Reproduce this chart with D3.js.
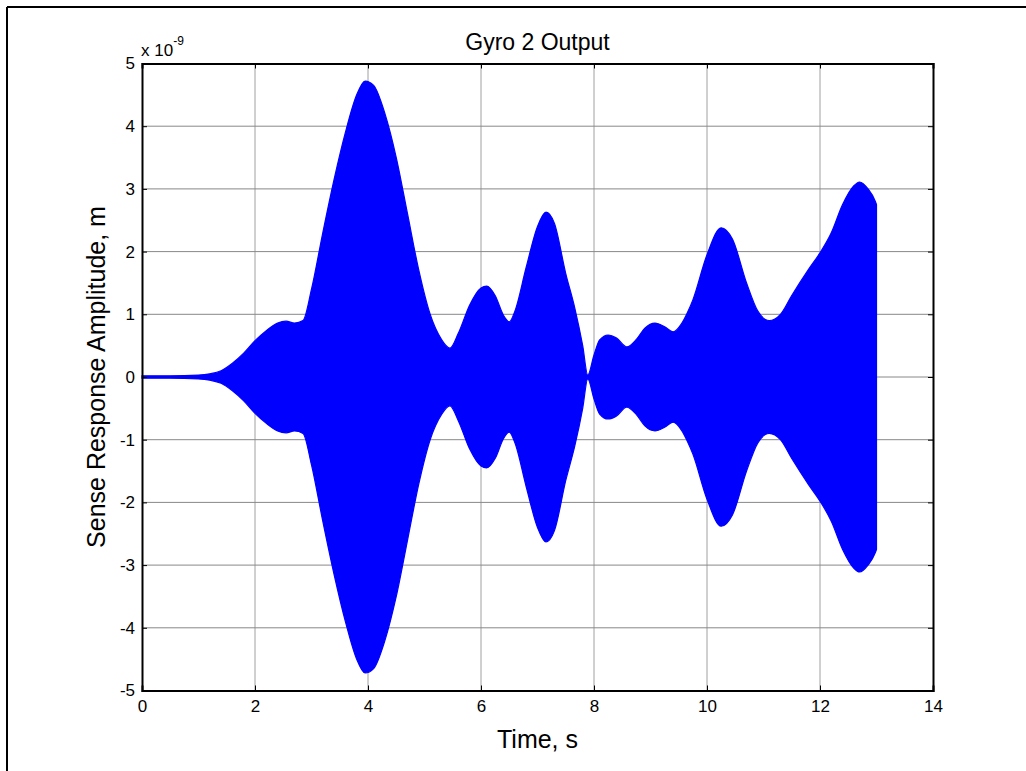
<!DOCTYPE html>
<html>
<head>
<meta charset="utf-8">
<script src="https://cdn.jsdelivr.net/npm/d3@7"></script>
<style>
  body { margin: 0; background: #fff; }
  svg { display: block; font-family: Arial, "Liberation Sans", sans-serif; }
</style>
</head>
<body>
<svg id="chart" width="1026" height="771"></svg>
<script>
// envelope of the sense response (units of 1e-9 m)
var times = [0, 0.5, 1.0, 1.2, 1.4, 1.6, 1.8, 2.0, 2.2, 2.4, 2.55, 2.7, 2.85,
    3.0, 3.2, 3.4, 3.6, 3.8, 3.95, 4.1, 4.3, 4.5, 4.7, 4.9, 5.1, 5.3, 5.45,
    5.6, 5.8, 6.0, 6.1, 6.25, 6.4, 6.5, 6.6, 6.8, 7.0, 7.15, 7.3, 7.5, 7.66,
    7.8, 7.89, 8.0, 8.1, 8.25, 8.4, 8.58, 8.75, 8.9, 9.08, 9.25, 9.4, 9.55,
    9.65, 9.75, 10.0, 10.25, 10.45, 10.7, 10.9, 11.1, 11.3, 11.5, 11.8, 12.0,
    12.2, 12.4, 12.6, 12.7, 12.85, 12.98, 13.0];
var amps = [0.02, 0.02, 0.03, 0.05, 0.1, 0.22, 0.38, 0.58, 0.74, 0.86, 0.89, 0.86, 0.9,
    1.4, 2.3, 3.15, 3.9, 4.5, 4.72, 4.65, 4.2, 3.5, 2.6, 1.7, 1.0, 0.6, 0.46,
    0.7, 1.15, 1.42, 1.45, 1.3, 0.98, 0.88, 1.05, 1.75, 2.4, 2.63, 2.45, 1.65, 1.1,
    0.5, 0.03, 0.35, 0.59, 0.67, 0.62, 0.48, 0.6, 0.78, 0.86, 0.8, 0.72, 0.85,
    1.02, 1.23, 1.95, 2.38, 2.2, 1.5, 1.05, 0.9, 1.0, 1.3, 1.72, 1.98,
    2.3, 2.75, 3.05, 3.11, 3.0, 2.8, 2.75];

var xTicks = [0, 2, 4, 6, 8, 10, 12, 14];
var yTicks = [-5, -4, -3, -2, -1, 0, 1, 2, 3, 4, 5];

var svg = d3.select("#chart");

// figure frame (only top and left edges are in view)
svg.append("line").attr("x1", 7).attr("x2", 1026).attr("y1", 7).attr("y2", 7)
    .attr("stroke", "#000").attr("stroke-width", 2);
svg.append("line").attr("x1", 7).attr("x2", 7).attr("y1", 7).attr("y2", 771)
    .attr("stroke", "#000").attr("stroke-width", 2);

var pLeft = 142, pRight = 933, pTop = 63.5, pBottom = 690.5;

var x = d3.scaleLinear().domain([0, 14]).range([pLeft, pRight]);
var y = d3.scaleLinear().domain([-5, 5]).range([pBottom, pTop]);

// grid
var grid = svg.append("g").attr("stroke", "#a0a0a0").attr("stroke-width", 1);
xTicks.slice(1, -1).forEach(function (d) {
    grid.append("line").attr("x1", x(d)).attr("x2", x(d)).attr("y1", pTop).attr("y2", pBottom);
});
yTicks.slice(1, -1).forEach(function (d) {
    grid.append("line").attr("x1", pLeft).attr("x2", pRight).attr("y1", y(d)).attr("y2", y(d))
        .attr("stroke", "#888");
});

// signal envelope
var data = times.map(function (t, i) { return {t: t, a: amps[i]}; });

var area = d3.area()
    .x(function (d) { return x(d.t); })
    .y0(function (d) { return y(-d.a); })
    .y1(function (d) { return y(d.a); })
    .curve(d3.curveMonotoneX);

svg.append("path")
    .datum(data)
    .attr("d", area)
    .attr("fill", "#0000ff")
    .attr("stroke", "#0000ff")
    .attr("stroke-width", 1.2);

// axes
var fmt = function (d) { return String(d); };
var axB = d3.axisBottom(x).tickValues(xTicks).tickSize(-5).tickPadding(9).tickFormat(fmt);
var axT = d3.axisTop(x).tickValues(xTicks).tickSize(-5).tickFormat("");
var axL = d3.axisLeft(y).tickValues(yTicks).tickSize(-5).tickPadding(7).tickFormat(fmt);
var axR = d3.axisRight(y).tickValues(yTicks).tickSize(-5).tickFormat("");

function styleAxis(g) {
    g.attr("font-size", 17).attr("font-family", "Arial, 'Liberation Sans', sans-serif");
    g.select(".domain").attr("stroke", "#000").attr("stroke-width", 2);
    g.selectAll(".tick line").attr("stroke", "#000");
    g.selectAll(".tick text").attr("fill", "#000");
}

svg.append("g").attr("transform", "translate(0," + pBottom + ")").call(axB).call(styleAxis);
svg.append("g").attr("transform", "translate(0," + pTop + ")").call(axT).call(styleAxis);
svg.append("g").attr("transform", "translate(" + pLeft + ",0)").call(axL).call(styleAxis);
svg.append("g").attr("transform", "translate(" + pRight + ",0)").call(axR).call(styleAxis);

// exponent label
var ex = svg.append("text").attr("x", 141).attr("y", 56).attr("font-size", 17);
ex.append("tspan").text("x 10");
ex.append("tspan").attr("dy", -11).attr("font-size", 12).text("-9");

// title and labels
svg.append("text").attr("x", (pLeft + pRight) / 2).attr("y", 50)
    .attr("text-anchor", "middle").attr("font-size", 23).text("Gyro 2 Output");

svg.append("text").attr("x", (pLeft + pRight) / 2).attr("y", 748)
    .attr("text-anchor", "middle").attr("font-size", 25).text("Time, s");

svg.append("text")
    .attr("transform", "translate(105," + ((pTop + pBottom) / 2) + ") rotate(-90)")
    .attr("text-anchor", "middle").attr("font-size", 25)
    .text("Sense Response Amplitude, m");
</script>
</body>
</html>
